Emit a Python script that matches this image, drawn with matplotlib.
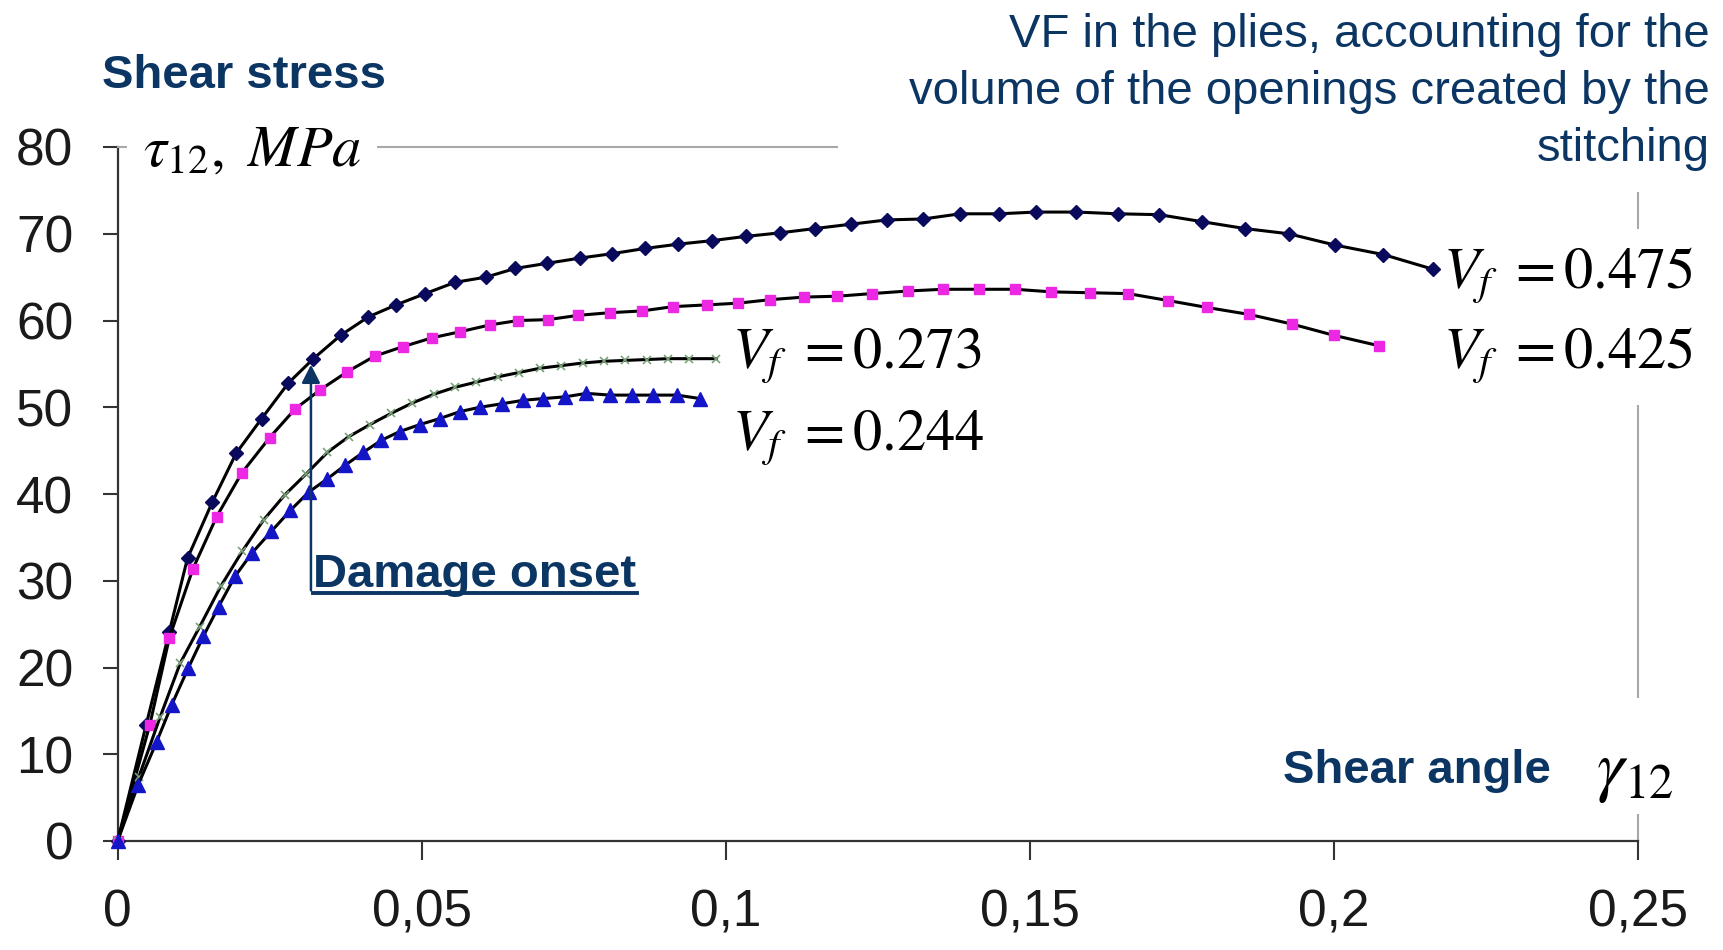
import matplotlib.pyplot as plt
from matplotlib.patches import Rectangle

plt.rcParams['font.family'] = ['Liberation Sans', 'DejaVu Sans']
plt.rcParams['mathtext.fontset'] = 'stix'

# shear angle gamma12 [-] and shear stress tau12 [MPa], one pair per fibre volume fraction
gam_475 = [0, 0.0047, 0.0085, 0.0115, 0.0156, 0.0195, 0.0237, 0.0281, 0.0322, 0.0367,
           0.0412, 0.0458, 0.0506, 0.0555, 0.0606, 0.0654, 0.0707, 0.0761, 0.0813, 0.0867,
           0.0922, 0.0977, 0.1034, 0.1089, 0.1147, 0.1206, 0.1266, 0.1325, 0.1386, 0.1449,
           0.1511, 0.1577, 0.1646, 0.1713, 0.1783, 0.1854, 0.1926, 0.2002, 0.2082, 0.2164]
tau_475 = [0, 13.4, 24.1, 32.6, 39.1, 44.7, 48.7, 52.8, 55.6, 58.3,
           60.4, 61.8, 63.1, 64.4, 65.0, 66.0, 66.6, 67.2, 67.7, 68.3,
           68.8, 69.2, 69.7, 70.1, 70.6, 71.1, 71.6, 71.7, 72.3, 72.3,
           72.5, 72.5, 72.3, 72.2, 71.4, 70.6, 70.0, 68.7, 67.6, 65.9]

gam_425 = [0, 0.0053, 0.0085, 0.0124, 0.0163, 0.0204, 0.0250, 0.0292, 0.0333, 0.0378,
           0.0423, 0.0470, 0.0517, 0.0563, 0.0613, 0.0659, 0.0708, 0.0758, 0.0810, 0.0862,
           0.0914, 0.0969, 0.1021, 0.1073, 0.1129, 0.1184, 0.1240, 0.1300, 0.1358, 0.1417,
           0.1476, 0.1536, 0.1599, 0.1662, 0.1728, 0.1792, 0.1861, 0.1931, 0.2000, 0.2074]
tau_425 = [0, 13.4, 23.4, 31.4, 37.4, 42.4, 46.5, 49.8, 52.0, 54.1,
           55.9, 57.0, 58.0, 58.7, 59.5, 60.0, 60.1, 60.6, 60.9, 61.1,
           61.6, 61.8, 62.0, 62.4, 62.7, 62.8, 63.1, 63.4, 63.6, 63.6,
           63.6, 63.3, 63.2, 63.1, 62.3, 61.5, 60.7, 59.6, 58.3, 57.1]

gam_273 = [0, 0.0035, 0.0070, 0.0103, 0.0135, 0.0170, 0.0205, 0.0240, 0.0275, 0.0310,
           0.0345, 0.0380, 0.0415, 0.0450, 0.0485, 0.0520, 0.0555, 0.0590, 0.0625, 0.0660,
           0.0695, 0.0730, 0.0765, 0.0800, 0.0835, 0.0870, 0.0905, 0.0940, 0.0985]
tau_273 = [0, 7.4, 14.3, 20.5, 24.7, 29.4, 33.4, 37.0, 39.9, 42.3,
           44.8, 46.6, 48.0, 49.3, 50.5, 51.5, 52.3, 52.9, 53.5, 54.0,
           54.5, 54.8, 55.1, 55.3, 55.4, 55.5, 55.6, 55.6, 55.6]

gam_244 = [0, 0.0034, 0.0064, 0.0089, 0.0116, 0.0141, 0.0166, 0.0193, 0.0221, 0.0253,
           0.0284, 0.0314, 0.0344, 0.0374, 0.0404, 0.0434, 0.0464, 0.0497, 0.0530, 0.0563,
           0.0596, 0.0632, 0.0667, 0.0700, 0.0736, 0.0771, 0.0810, 0.0846, 0.0881, 0.0920,
           0.0958]
tau_244 = [0, 6.5, 11.4, 15.7, 19.9, 23.6, 27.0, 30.5, 33.2, 35.7,
           38.1, 40.2, 41.7, 43.3, 44.8, 46.2, 47.2, 48.0, 48.7, 49.5,
           50.0, 50.4, 50.8, 51.0, 51.2, 51.6, 51.4, 51.4, 51.4, 51.4,
           51.0]

vf_text = ['0.475', '0.425', '0.273', '0.244']
xticks = [0, 0.05, 0.1, 0.15, 0.2, 0.25]
xtick_labels = ['0', '0,05', '0,1', '0,15', '0,2', '0,25']
yticks = [0, 10, 20, 30, 40, 50, 60, 70, 80]

navy = '#0b3563'
W, H = 1724, 950


def px(x, y):
    """pixel position (from top left) -> figure fraction"""
    return x / W, 1 - y / H


def mask(ax, x0, y0, x1, y1):
    # white patch over the frame where a label sits on it
    fx0, fy1 = px(x0, y0)
    fx1, fy0 = px(x1, y1)
    ax.add_patch(Rectangle((fx0, fy0), fx1 - fx0, fy1 - fy0, transform=ax.figure.transFigure,
                           facecolor='white', edgecolor='none', zorder=2.6, clip_on=False))


fig = plt.figure(figsize=(W / 100, H / 100), dpi=100)
ax = fig.add_axes([117.6 / W, 1 - 841 / H, 1520 / W, 694 / H])

ax.plot(gam_475, tau_475, color='black', lw=2.2, marker='D', ms=7,
        mfc='#0a0a5c', mec='#0a0a5c', clip_on=False, zorder=4)
ax.plot(gam_425, tau_425, color='black', lw=2.2, marker='s', ms=7.5,
        mfc='#ec28e4', mec='#ec28e4', clip_on=False, zorder=4)
ax.plot(gam_273, tau_273, color='black', lw=2.2, marker='x', ms=6, mew=1.2,
        mec='#7aa27a', clip_on=False, zorder=4)
ax.plot(gam_244, tau_244, color='black', lw=2.2, marker='^', ms=10,
        mfc='#1515c8', mec='#1515c8', clip_on=False, zorder=4)

ax.set_xlim(0, 0.25)
ax.set_ylim(0, 80)
ax.set_xticks(xticks)
ax.set_xticklabels(xtick_labels)
ax.set_yticks(yticks)

for side in ['left', 'bottom']:
    ax.spines[side].set_color('#333333')
    ax.spines[side].set_linewidth(1.6)
for side in ['top', 'right']:
    ax.spines[side].set_color('#a8a8a8')
    ax.spines[side].set_linewidth(1.5)

ax.tick_params(axis='y', direction='out', length=11, width=1.5, color='#333333',
               labelsize=37, labelcolor='#1a1a1a', pad=21)
ax.tick_params(axis='x', direction='out', length=13.5, width=1.5, color='#333333',
               labelsize=37, labelcolor='#1a1a1a', pad=21)

# frame gaps behind the labels
mask(ax, 127, 130, 377, 165)
mask(ax, 838, 0, W, 192)
mask(ax, 1440, 229, W, 405)
mask(ax, 1560, 698, W, 814)

# axis symbols and curve labels
ax.text(0.0042, 77.9, r'$\tau_{12},\ MPa$', fontsize=42, va='baseline', zorder=5)
ax.text(0.2432, 6.0, r'$\gamma_{12}$', fontsize=50, va='baseline', zorder=5)
ax.text(0.2180, 63.7, r'$V_f\ = %s$' % vf_text[0], fontsize=42, va='baseline', zorder=5)
ax.text(0.2180, 54.5, r'$V_f\ = %s$' % vf_text[1], fontsize=42, va='baseline', zorder=5)
ax.text(0.1010, 54.5, r'$V_f\ = %s$' % vf_text[2], fontsize=42, va='baseline', zorder=5)
ax.text(0.1010, 45.1, r'$V_f\ = %s$' % vf_text[3], fontsize=42, va='baseline', zorder=5)

ax.text(0.1916, 6.7, 'Shear angle', fontsize=34, fontweight='bold', color=navy,
        va='baseline', zorder=5)
fig.text(*px(102, 88), 'Shear stress', fontsize=34, fontweight='bold', color=navy,
         va='baseline')
fig.text(*px(1710, 13), 'VF in the plies, accounting for the\n'
         'volume of the openings created by the\nstitching',
         fontsize=34, color=navy, ha='right', va='top', linespacing=1.38)

# damage onset marker
ax.annotate('', xy=(0.0318, 54.9), xytext=(0.0318, 28.9),
            arrowprops=dict(arrowstyle='-|>,head_length=0.55,head_width=0.28',
                            mutation_scale=20, color=navy, lw=1.8,
                            shrinkA=0, shrinkB=0), zorder=5)
t = ax.text(0.0322, 29.3, 'Damage onset', fontsize=34, fontweight='bold', color=navy,
            va='baseline', zorder=5)
fig.canvas.draw()
ext = t.get_window_extent(fig.canvas.get_renderer())
inv = ax.transData.inverted()
ux0 = inv.transform((ext.x0, 0))[0]
ux1 = inv.transform((ext.x1, 0))[0]
ax.plot([ux0, ux1], [28.55, 28.55], color=navy, lw=2.8, clip_on=False, zorder=5)

fig.savefig('out.png', dpi=100)
